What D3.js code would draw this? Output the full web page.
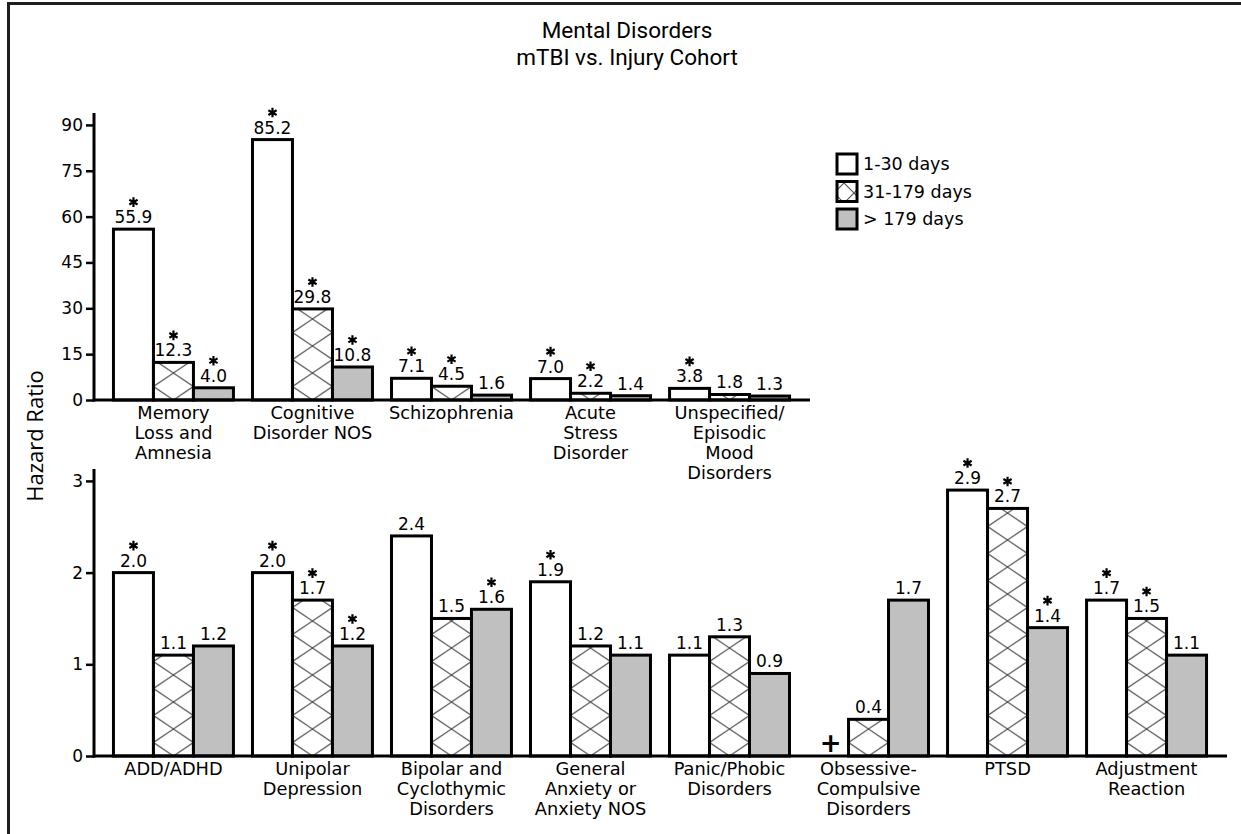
<!DOCTYPE html>
<html>
<head>
<meta charset="utf-8">
<script src="https://cdn.jsdelivr.net/npm/d3@7"></script>
<style>
  html, body { margin: 0; padding: 0; background: #fff; }
  svg { display: block; }
</style>
</head>
<body>
<svg id="chart" width="1241" height="834"></svg>
<script>
// ---- Data ----------------------------------------------------------------
const seriesNames = ["1-30 days", "31-179 days", "> 179 days"];

const topCategories = [
  ["Memory", "Loss and", "Amnesia"],
  ["Cognitive", "Disorder NOS"],
  ["Schizophrenia"],
  ["Acute", "Stress", "Disorder"],
  ["Unspecified/", "Episodic", "Mood", "Disorders"]
];
const topDays1to30    = [55.9, 85.2, 7.1, 7.0, 3.8];
const topDays31to179  = [12.3, 29.8, 4.5, 2.2, 1.8];
const topDaysOver179  = [4.0, 10.8, 1.6, 1.4, 1.3];
const topSig1to30     = [true, true, true, true, true];
const topSig31to179   = [true, true, true, true, false];
const topSigOver179   = [true, true, false, false, false];
const topTicks = [0, 15, 30, 45, 60, 75, 90];

const bottomCategories = [
  ["ADD/ADHD"],
  ["Unipolar", "Depression"],
  ["Bipolar and", "Cyclothymic", "Disorders"],
  ["General", "Anxiety or", "Anxiety NOS"],
  ["Panic/Phobic", "Disorders"],
  ["Obsessive-", "Compulsive", "Disorders"],
  ["PTSD"],
  ["Adjustment", "Reaction"]
];
// null = not estimable (shown with a "+")
const bottomDays1to30   = [2.0, 2.0, 2.4, 1.9, 1.1, null, 2.9, 1.7];
const bottomDays31to179 = [1.1, 1.7, 1.5, 1.2, 1.3, 0.4, 2.7, 1.5];
const bottomDaysOver179 = [1.2, 1.2, 1.6, 1.1, 0.9, 1.7, 1.4, 1.1];
const bottomSig1to30    = [true, true, false, true, false, false, true, true];
const bottomSig31to179  = [false, true, false, false, false, false, true, true];
const bottomSigOver179  = [false, true, true, false, false, false, true, false];
const bottomTicks = [0, 1, 2, 3];

// ---- Setup ---------------------------------------------------------------
const svg = d3.select("#chart");
const FONT = "'DejaVu Sans', Verdana, sans-serif";
const TITLE_FONT = "Roboto, 'Open Sans', sans-serif";
const AXIS_TITLE_FONT = "'Open Sans', 'Noto Sans', sans-serif";
const fills = ["#ffffff", null, "#c0c0c0"];
const fmt = d3.format(".1f");
const defs = svg.append("defs");

// outer frame
svg.append("rect")
  .attr("x", 8.5).attr("y", 3.5)
  .attr("width", 1400).attr("height", 1000)
  .attr("fill", "none").attr("stroke", "#1e1e1e").attr("stroke-width", 3);

// title
const title = svg.append("text")
  .attr("text-anchor", "middle")
  .attr("font-family", TITLE_FONT).attr("font-size", 22.5).attr("fill", "#000");
title.append("tspan").attr("x", 627).attr("y", 38).text("Mental Disorders");
title.append("tspan").attr("x", 627).attr("y", 65).text("mTBI vs. Injury Cohort");

// y-axis title
svg.append("text")
  .attr("transform", "translate(43,436) rotate(-90)")
  .attr("text-anchor", "middle")
  .attr("font-family", AXIS_TITLE_FONT).attr("font-size", 22).attr("fill", "#000")
  .text("Hazard Ratio");

// cross-hatch pattern built for a given tile
let patternCount = 0;
function hatchPattern(x0, y0, w, h) {
  const id = "hatch" + (patternCount++);
  const p = defs.append("pattern")
    .attr("id", id)
    .attr("patternUnits", "userSpaceOnUse")
    .attr("x", x0).attr("y", y0)
    .attr("width", w).attr("height", h);
  p.append("rect").attr("width", w).attr("height", h).attr("fill", "#fff");
  const s = (h / 2) / (w / 2);
  const lines = [];
  for (let k = -1; k <= 2; k++) {
    lines.push([[-w / 2, k * h - s * w], [w * 1.5, k * h + s * w]]);
    lines.push([[-w / 2, k * h + s * w], [w * 1.5, k * h - s * w]]);
  }
  p.selectAll("path").data(lines).join("path")
    .attr("d", d => d3.line()(d))
    .attr("stroke", "#4d4d4d").attr("stroke-width", 1.1).attr("fill", "none");
  return "url(#" + id + ")";
}

const starPath = d3.symbol().type(d3.symbolAsterisk).size(64)();

function drawPanel(cfg) {
  const g = svg.append("g");
  const idx = cfg.categories.map((c, i) => i);
  const x = d3.scaleBand().domain(idx)
    .range([cfg.x0, cfg.x1]).paddingInner(0.137).paddingOuter(0.14);
  const xs = d3.scaleBand().domain([0, 1, 2]).range([0, x.bandwidth()]);
  const y = d3.scaleLinear().domain([0, cfg.yMax]).range([cfg.yBase, cfg.yTop]);

  const rows = [];
  idx.forEach(i => {
    cfg.series.forEach((vals, s) => {
      rows.push({ i, s, v: vals[i], sig: cfg.sig[s][i] });
    });
  });

  // bars
  const bars = rows.filter(d => d.v !== null);
  g.selectAll("rect.bar").data(bars).join("rect")
    .attr("class", "bar")
    .attr("x", d => x(d.i) + xs(d.s))
    .attr("y", d => y(d.v))
    .attr("width", xs.bandwidth())
    .attr("height", d => y(0) - y(d.v))
    .attr("fill", d => d.s === 1
      ? hatchPattern(x(d.i) + xs(d.s), y(0), xs.bandwidth(), 27)
      : fills[d.s])
    .attr("stroke", "#000").attr("stroke-width", 3);

  // value labels
  g.selectAll("text.val").data(bars).join("text")
    .attr("class", "val")
    .attr("x", d => x(d.i) + xs(d.s) + xs.bandwidth() / 2)
    .attr("y", d => y(d.v) - 6)
    .attr("text-anchor", "middle")
    .attr("font-family", FONT).attr("font-size", 17).attr("fill", "#000")
    .text(d => fmt(d.v));

  // significance markers
  g.selectAll("path.sig").data(bars.filter(d => d.sig)).join("path")
    .attr("class", "sig")
    .attr("transform", d =>
      `translate(${x(d.i) + xs(d.s) + xs.bandwidth() / 2},${y(d.v) - 27})`)
    .attr("d", starPath)
    .attr("stroke", "#000").attr("stroke-width", 2.2).attr("fill", "none");

  // not-estimable markers
  g.selectAll("text.na").data(rows.filter(d => d.v === null)).join("text")
    .attr("class", "na")
    .attr("x", d => x(d.i) + xs(d.s) + xs.bandwidth() / 2 + 2)
    .attr("y", y(0) - 4)
    .attr("text-anchor", "middle")
    .attr("font-family", FONT).attr("font-size", 26).attr("font-weight", "bold").attr("fill", "#000")
    .text("+");

  // x axis
  const xAxis = g.append("g")
    .attr("transform", `translate(0,${cfg.yBase})`)
    .call(d3.axisBottom(x).tickSize(0).tickSizeOuter(0).tickFormat(() => ""));
  xAxis.select(".domain")
    .attr("d", `M${cfg.x0 - 1},0H${cfg.x1 + 1}`)
    .attr("stroke", "#000").attr("stroke-width", 3);
  xAxis.selectAll(".tick text").remove();
  xAxis.selectAll(".tick").each(function (i) {
    const t = d3.select(this).append("text")
      .attr("text-anchor", "middle")
      .attr("font-family", FONT).attr("font-size", 17.8).attr("fill", "#000");
    cfg.categories[i].forEach((line, k) => {
      t.append("tspan").attr("x", 0).attr("y", 19 + k * 20).text(line);
    });
  });

  // y axis
  const yAxis = g.append("g")
    .attr("transform", `translate(${cfg.x0},0)`)
    .call(d3.axisLeft(y).tickValues(cfg.ticks).tickFormat(d3.format("d"))
      .tickSize(8).tickSizeOuter(0).tickPadding(3));
  yAxis.select(".domain").attr("stroke", "#000").attr("stroke-width", 3)
    .attr("d", `M0,${cfg.yBase + 1.5}V${cfg.yTop}`);
  yAxis.selectAll(".tick line").attr("stroke", "#000").attr("stroke-width", 2.5);
  yAxis.selectAll(".tick text")
    .attr("font-family", FONT).attr("font-size", 17).attr("fill", "#000");
}

drawPanel({
  categories: topCategories,
  series: [topDays1to30, topDays31to179, topDaysOver179],
  sig: [topSig1to30, topSig31to179, topSigOver179],
  ticks: topTicks,
  yMax: 93.9, yBase: 400, yTop: 113, x0: 94, x1: 809
});

drawPanel({
  categories: bottomCategories,
  series: [bottomDays1to30, bottomDays31to179, bottomDaysOver179],
  sig: [bottomSig1to30, bottomSig31to179, bottomSigOver179],
  ticks: bottomTicks,
  yMax: 3.13, yBase: 756, yTop: 469, x0: 94, x1: 1226
});

// legend
const legend = svg.append("g").attr("transform", "translate(837,154)");
const lg = legend.selectAll("g").data(seriesNames).join("g")
  .attr("transform", (d, i) => `translate(0,${i * 27.5})`);
lg.append("rect")
  .attr("width", 20).attr("height", 20)
  .attr("fill", (d, i) => i === 1 ? hatchPattern(837, 154 + 27.5, 20, 20) : fills[i])
  .attr("stroke", "#000").attr("stroke-width", 3);
lg.append("text")
  .attr("x", 26).attr("y", 16)
  .attr("font-family", FONT).attr("font-size", 17.5).attr("fill", "#000")
  .text(d => d);
</script>
</body>
</html>
